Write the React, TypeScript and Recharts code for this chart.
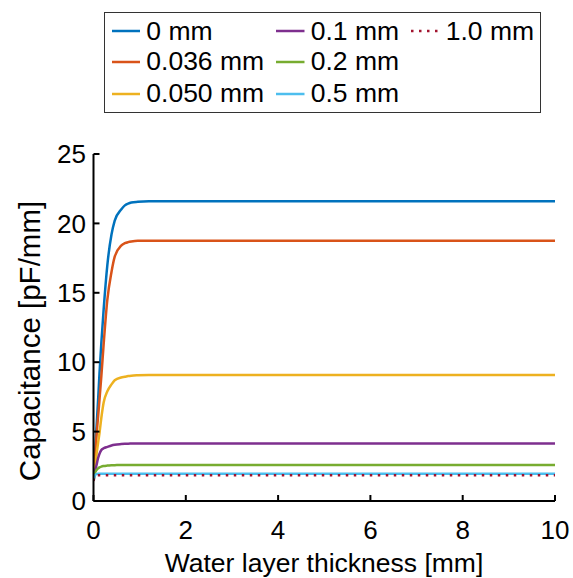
import React from "react";
import { LineChart, Line, XAxis, YAxis, Legend } from "recharts";

const thickness = [0, 0.03, 0.06, 0.1, 0.13, 0.17, 0.22, 0.3, 0.39, 0.46, 0.6, 0.68, 0.75, 0.82, 0.96, 1.2, 1.4, 2, 10];
const s0mm = [1.45, 3.2, 5.0, 7.3, 9.2, 11.4, 13.8, 17.0, 19.2, 20.2, 21.0, 21.3, 21.42, 21.5, 21.56, 21.6, 21.6, 21.6, 21.6];
const s0036mm = [1.45, 3.0, 4.5, 6.1, 7.3, 9.0, 11.3, 14.5, 16.5, 17.6, 18.4, 18.57, 18.65, 18.7, 18.75, 18.75, 18.75, 18.75, 18.75];
const s0050mm = [1.45, 2.2, 3.2, 4.2, 4.9, 6.0, 7.1, 7.9, 8.4, 8.7, 8.9, 8.95, 9.0, 9.03, 9.06, 9.08, 9.08, 9.08, 9.08];
const s01mm = [1.45, 2.1, 2.5, 3.1, 3.4, 3.67, 3.8, 3.9, 4.0, 4.05, 4.1, 4.12, 4.13, 4.14, 4.15, 4.15, 4.15, 4.15, 4.15];
const s02mm = [1.45, 2.0, 2.2, 2.35, 2.42, 2.48, 2.52, 2.55, 2.57, 2.58, 2.6, 2.6, 2.6, 2.6, 2.6, 2.6, 2.6, 2.6, 2.6];
const s05mm = [1.45, 1.85, 1.94, 1.96, 1.96, 1.96, 1.96, 1.96, 1.96, 1.96, 1.96, 1.96, 1.96, 1.96, 1.96, 1.96, 1.96, 1.96, 1.96];
const s10mm = [1.45, 1.78, 1.85, 1.86, 1.86, 1.86, 1.86, 1.86, 1.86, 1.86, 1.86, 1.86, 1.86, 1.86, 1.86, 1.86, 1.86, 1.86, 1.86];

const xTicks = [0, 2, 4, 6, 8, 10];
const yTicks = [0, 5, 10, 15, 20, 25];

const seriesInfo = [
  { key: "a", name: "0 mm", color: "#0072BD", values: s0mm, dash: undefined as string | undefined },
  { key: "b", name: "0.036 mm", color: "#D95319", values: s0036mm, dash: undefined },
  { key: "c", name: "0.050 mm", color: "#EDB120", values: s0050mm, dash: undefined },
  { key: "d", name: "0.1 mm", color: "#7E2F8E", values: s01mm, dash: undefined },
  { key: "e", name: "0.2 mm", color: "#77AC30", values: s02mm, dash: undefined },
  { key: "f", name: "0.5 mm", color: "#4DBEEE", values: s05mm, dash: undefined },
  { key: "g", name: "1.0 mm", color: "#A2142F", values: s10mm, dash: "2.5 5.5" },
];

const data = thickness.map((x, i) => {
  const row: Record<string, number> = { x };
  seriesInfo.forEach((s) => {
    row[s.key] = s.values[i];
  });
  return row;
});

const FONT = "'Liberation Sans', Arial, sans-serif";

const legendPos = [
  { col: 0, row: 0 },
  { col: 0, row: 1 },
  { col: 0, row: 2 },
  { col: 1, row: 0 },
  { col: 1, row: 1 },
  { col: 1, row: 2 },
  { col: 2, row: 0 },
];
const colX = [6.8, 171.2, 306.2];
const rowY = [18.2, 48.8, 80.8];

const LegendBox = () => (
  <div
    style={{
      position: "relative",
      width: 437,
      height: 101,
      border: "1.5px solid #333",
      boxSizing: "border-box",
      background: "#fff",
      fontFamily: FONT,
      fontSize: 26.5,
      color: "#000",
    }}
  >
    {seriesInfo.map((s, i) => {
      const p = legendPos[i];
      return (
        <div
          key={s.key}
          style={{
            position: "absolute",
            left: colX[p.col],
            top: rowY[p.row] - 16,
            height: 32,
            display: "flex",
            alignItems: "center",
            whiteSpace: "nowrap",
          }}
        >
          <svg width={28.5} height={6} style={{ marginRight: 6 }}>
            <line
              x1={0}
              y1={3}
              x2={28.5}
              y2={3}
              stroke={s.color}
              strokeWidth={2.5}
              strokeDasharray={s.dash}
            />
          </svg>
          <span>{s.name}</span>
        </div>
      );
    })}
  </div>
);

const XLabel = () => (
  <text x={324} y={572} textAnchor="middle" fill="#000" fontSize={26.5} fontFamily={FONT}>
    Water layer thickness [mm]
  </text>
);

const YLabel = () => (
  <text
    x={40}
    y={341}
    transform="rotate(-90, 40, 341)"
    textAnchor="middle"
    fill="#000"
    fontSize={29.5}
    fontFamily={FONT}
  >
    Capacitance [pF/mm]
  </text>
);

export default function App() {
  return (
    <div style={{ position: "absolute", left: 0, top: 0, background: "#fff" }}>
      <LineChart
        width={573}
        height={578}
        data={data}
        margin={{ top: 154, right: 18, bottom: 0, left: 0 }}
      >
        <XAxis
          dataKey="x"
          type="number"
          domain={[0, 10]}
          ticks={xTicks}
          allowDataOverflow
          height={77}
          tickSize={-6}
          tickMargin={26}
          stroke="#000"
          strokeWidth={2}
          tick={{ fill: "#000", fontSize: 26, fontFamily: FONT }}
          label={{ content: () => <XLabel /> }}
        />
        <YAxis
          type="number"
          domain={[0, 25]}
          ticks={yTicks}
          width={93.5}
          tickSize={-6}
          tickMargin={13.5}
          stroke="#000"
          strokeWidth={2}
          tick={{ fill: "#000", fontSize: 26, fontFamily: FONT }}
          label={{ content: () => <YLabel /> }}
        />
        <Legend
          layout="vertical"
          verticalAlign="middle"
          align="center"
          wrapperStyle={{ left: 104, top: 12, width: 437, height: 101 }}
          content={() => <LegendBox />}
        />
        {seriesInfo.map((s) => (
          <Line
            key={s.key}
            dataKey={s.key}
            name={s.name}
            type="monotone"
            stroke={s.color}
            strokeWidth={2.5}
            strokeDasharray={s.dash}
            dot={false}
            activeDot={false}
            isAnimationActive={false}
          />
        ))}
      </LineChart>
    </div>
  );
}
